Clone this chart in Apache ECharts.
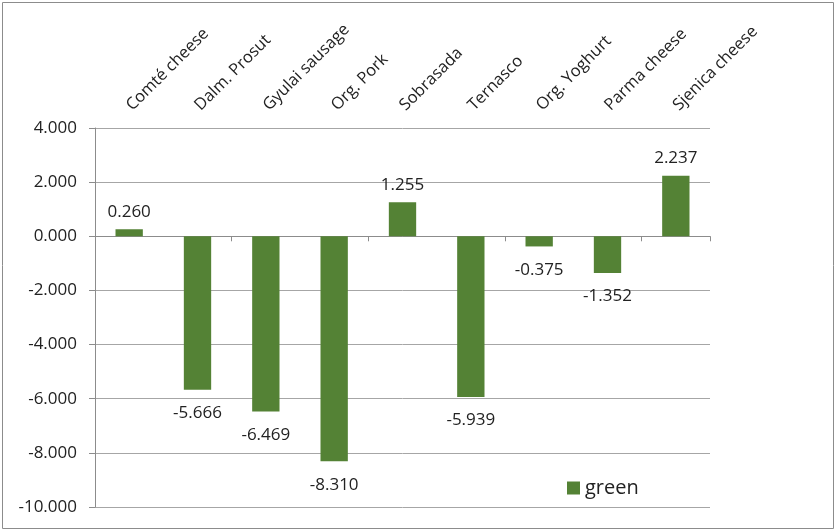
<!DOCTYPE html>
<html><head><meta charset="utf-8">
<script src="https://cdn.jsdelivr.net/npm/echarts@6/dist/echarts.min.js"></script>
<style>html,body{margin:0;padding:0;background:#fff}#c{width:837px;height:531px}</style>
</head><body><div id="c"></div>
<script>
const categories = ['Comté cheese','Dalm. Prosut','Gyulai sausage','Org. Pork','Sobrasada','Ternasco','Org. Yoghurt','Parma cheese','Sjenica cheese'];
const greenValues = [0.260, -5.666, -6.469, -8.310, 1.255, -5.939, -0.375, -1.352, 2.237];
const seriesName = 'green';
const fmt = v => v.toFixed(3);
const font = 'Open Sans';
const chart = echarts.init(document.getElementById('c'));
chart.setOption({
  animation: false,
  graphic: [{type:'rect', shape:{x:2.5,y:2.5,width:831,height:526}, style:{fill:'none', stroke:'#8c8c8c', lineWidth:1}, silent:true}],
  grid: {left:95, right:127, top:128, bottom:24},
  legend: {data:[seriesName], left:567, top:478, padding:0, itemWidth:13, itemHeight:13, itemGap:6, icon:'rect',
    textStyle:{fontFamily:font, fontSize:20, color:'#222'}},
  xAxis: [
    {type:'category', data:categories, position:'top', axisLine:{show:false, onZero:false}, axisTick:{show:false},
     axisLabel:{rotate:-45, interval:0, fontFamily:font, fontSize:16.5, color:'#222', margin:20}},
    {type:'category', data:categories, position:'bottom', axisLine:{onZero:true, lineStyle:{color:'#8c8c8c'}},
     axisTick:{show:true, length:5, inside:false, lineStyle:{color:'#8c8c8c'}}, axisLabel:{show:false}}
  ],
  yAxis: {type:'value', min:-10, max:4, interval:2,
    axisLine:{show:true, lineStyle:{color:'#8c8c8c'}}, axisTick:{show:true, length:6, lineStyle:{color:'#8c8c8c'}},
    splitLine:{lineStyle:{color:'#a6a6a6'}},
    axisLabel:{formatter: v => fmt(v), fontFamily:font, fontSize:17, color:'#222', margin:18}},
  series: [{name:seriesName, type:'bar', xAxisIndex:0, barWidth:'40%',
    data: greenValues.map(v => ({value:v, label:{distance: v < 0 ? 15 : 9}})),
    itemStyle:{color:'#548235'},
    label:{show:true, position:'outside', formatter:p=>fmt(p.value), fontFamily:font, fontSize:17, color:'#222'}}]
});
</script></body></html>
